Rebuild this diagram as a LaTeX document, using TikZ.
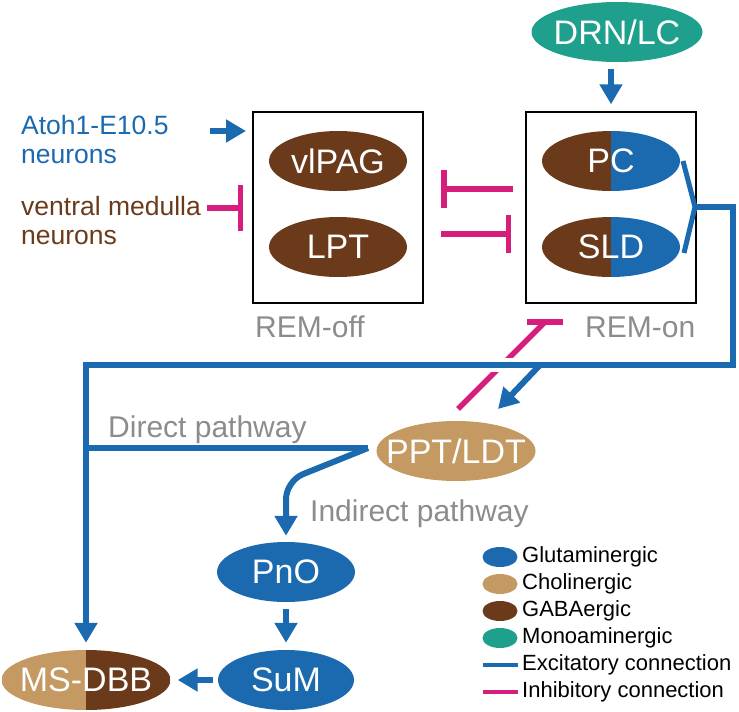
\documentclass[tikz,border=0pt]{standalone}
\usepackage{fontspec}
\setmainfont{Liberation Sans}
\usepackage{xcolor}
\usepackage{tikz}
\usetikzlibrary{arrows.meta, shapes.geometric}

\definecolor{glublue}{RGB}{27,106,176}
\definecolor{chotan}{RGB}{196,153,98}
\definecolor{gababrown}{RGB}{107,58,27}
\definecolor{monoteal}{RGB}{31,160,140}
\definecolor{inhpink}{RGB}{214,31,125}
\definecolor{labgray}{RGB}{140,140,140}

\newcommand{\ctext}[1]{\makebox[0pt]{#1}}

\tikzset{
  area/.style={ellipse, inner sep=0pt, minimum width=138pt, minimum height=60pt,
    text=white, font=\fontsize{34}{36}\selectfont},
  halfarea/.style 2 args={area, path picture={
      \fill[#1] (path picture bounding box.south west) rectangle (path picture bounding box.north);
      \fill[#2] (path picture bounding box.north) rectangle (path picture bounding box.south east);}},
  regionbox/.style={draw, line width=1.5pt, minimum width=170pt, minimum height=191pt, inner sep=0pt},
  excline/.style={draw=glublue, line width=6pt},
  exc/.style={excline, -{Triangle[width=22pt, length=20pt]}},
  inhline/.style={draw=inhpink, line width=5.5pt},
  inh/.style={inhline, -{Bar[width=38pt]}},
  sidetext/.style={font=\fontsize{26.5}{29}\selectfont, align=left, inner sep=0pt, anchor=west},
  graytext/.style={text=labgray, font=\fontsize{30}{32}\selectfont, inner sep=0pt, anchor=west},
  legdot/.style={ellipse, inner sep=0pt, minimum width=35pt, minimum height=20pt},
  legbar/.style={inner sep=0pt, minimum width=35pt, minimum height=4pt},
  legtext/.style={font=\fontsize{22}{24}\selectfont, inner sep=0pt, anchor=west}
}

\begin{document}
\begin{tikzpicture}[x=1pt, y=-1pt]
  \useasboundingbox (0,0) rectangle (739,712);

  \node[regionbox] (off) at (338,207.5) {};
  \node[regionbox] (on) at (611,207.5) {};
  \node[area, fill=monoteal, minimum width=171pt] (drn) at (617,32) {\ctext{DRN/LC}};
  \node[area, fill=gababrown] (vlpag) at (338,161) {\ctext{vlPAG}};
  \node[area, fill=gababrown] (lpt) at (338,247) {\ctext{LPT}};
  \node[halfarea={gababrown}{glublue}] (pc) at (611,161) {\ctext{PC}};
  \node[halfarea={gababrown}{glublue}] (sld) at (611,247) {\ctext{SLD}};
  \node[area, fill=chotan, minimum width=159pt] (ppt) at (456,451) {\ctext{PPT/LDT}};
  \node[area, fill=glublue] (pno) at (286,572) {\ctext{PnO}};
  \node[area, fill=glublue, minimum width=136pt] (sum) at (286,680) {\ctext{SuM}};
  \node[halfarea={chotan}{gababrown}, minimum width=169pt] (msdbb) at (86,680) {\ctext{MS-DBB}};

  \node[sidetext, text=glublue] (atoh) at (21,140) {Atoh1-E10.5\\neurons};
  \node[sidetext, text=gababrown] (ventral) at (21,221) {ventral medulla\\neurons};
  \node[graytext] (remoff) at (255,327) {REM-off};
  \node[graytext] (remon) at (585,327) {REM-on};
  \node[graytext] (direct) at (108,430) {Direct pathway};
  \node[graytext] (indirect) at (310,514) {Indirect pathway};

  % inputs to the REM-off box
  \coordinate (atohtail) at (210,131);
  \coordinate (atohtip) at (246,131);
  \coordinate (venttail) at (207,208);
  \coordinate (venttip) at (243,208);
  \draw[exc] (atohtail) -- (atohtip);
  \draw[inh, -{Bar[width=46pt]}] (venttail) -- (venttip);

  % mutual inhibition
  \coordinate (upinhtail) at (513,189);
  \coordinate (upinhtip) at (441,189);
  \coordinate (loinhtail) at (441,234);
  \coordinate (loinhtip) at (511,234);
  \draw[inh] (upinhtail) -- (upinhtip);
  \draw[inh] (loinhtail) -- (loinhtip);

  \draw[exc] ([yshift=-7pt]drn.south -| on.north) -- ([yshift=7pt]on.north);

  % PPT/LDT inhibits REM-on
  \coordinate (pinktail) at (458,409);
  \coordinate (pinkend) at (545,322);
  \draw[inhline] (pinktail) -- (pinkend);
  \draw[inhline] ([xshift=-18pt]pinkend) -- ([xshift=18pt]pinkend);

  % output of PC/SLD
  \coordinate (brtop) at (683,161);
  \coordinate (brmid) at (695,207);
  \coordinate (brbot) at (684,253);
  \coordinate (cr) at (733,365);
  \coordinate (cl) at (86,365);
  \draw[excline, line width=5pt] (brtop) -- (brmid) -- (brbot);
  \draw[white, line width=14pt] (cr) -- (cl);
  \draw[exc] (brmid) -| (cr) -- (cl) -- ([yshift=7pt]msdbb.north);

  \coordinate (pptin) at (540,365);
  \coordinate (ppttip) at (498,409);
  \draw[exc] (pptin) -- (ppttip);

  % direct and indirect pathways
  \coordinate (pptout) at (368,448);
  \coordinate (bend) at (286,481);
  \draw[excline] (pptout) -- (pptout -| cl);
  \draw[exc, rounded corners=18pt] (pptout) -- (bend) -- ([yshift=6pt]pno.north);
  \draw[exc] ([yshift=-7pt]pno.south) -- ([yshift=7pt]sum.north);
  \draw[exc] ([xshift=-5pt]sum.west) -- ([xshift=7pt]msdbb.east);

  % legend
  \foreach \col/\lab [count=\i] in {glublue/Glutaminergic, chotan/Cholinergic,
      gababrown/GABAergic, monoteal/Monoaminergic} {
    \node[legdot, fill=\col] (leg\i) at (500,530+27*\i) {};
    \node[legtext] (legtext\i) at (522,530+27*\i) {\lab};
  }
  \node[legbar, fill=glublue] (legexc) at (500,665) {};
  \node[legtext] (legexctext) at (522,665) {Excitatory connection};
  \node[legbar, fill=inhpink] (leginh) at (500,692) {};
  \node[legtext] (leginhtext) at (522,692) {Inhibitory connection};
\end{tikzpicture}
\end{document}
